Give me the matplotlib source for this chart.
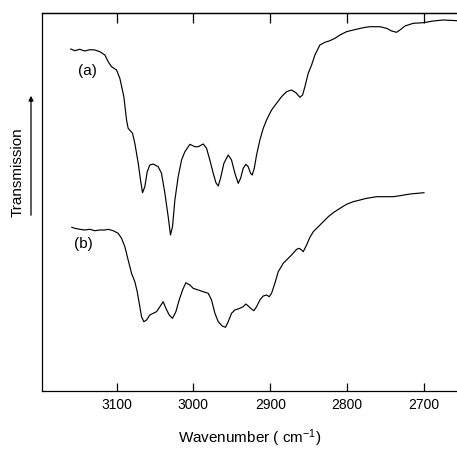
import matplotlib
matplotlib.use("Agg")
import matplotlib.pyplot as plt

# Curve (a): wavenumber (cm^-1) and transmission (arbitrary units)
wn_a = [3159.5, 3154.3, 3147.8, 3141.3, 3134.8, 3128.2, 3121.7, 3115.2, 3110.9, 3106.6,
        3100.0, 3095.7, 3090.5, 3087.0, 3084.9, 3079.2, 3076.2, 3071.8, 3068.8, 3066.2,
        3063.2, 3060.1, 3056.7, 3052.3, 3045.8, 3041.5, 3037.1, 3032.8, 3029.8, 3027.2,
        3024.1, 3019.8, 3015.4, 3011.1, 3004.6, 2998.1, 2993.7, 2987.2, 2982.9, 2978.6,
        2974.2, 2970.7, 2967.7, 2964.7, 2960.3, 2954.7, 2950.4, 2946.0, 2941.7, 2938.6,
        2935.2, 2931.7, 2928.7, 2925.6, 2923.5, 2920.8, 2917.8, 2913.5, 2909.1, 2904.8,
        2898.3, 2891.8, 2885.3, 2878.8, 2872.3, 2866.6, 2861.4, 2857.9, 2854.9, 2850.6,
        2846.2, 2841.9, 2835.4, 2828.9, 2822.4, 2815.8, 2809.3, 2800.7, 2792.0, 2779.0,
        2770.3, 2757.3, 2748.6, 2742.1, 2735.6, 2731.2, 2724.7, 2713.9, 2700.9, 2687.8,
        2674.8, 2657.0]
tr_a = [342.0, 340.3, 341.7, 340.0, 341.3, 341.0, 339.3, 336.0, 329.3, 324.3,
        321.0, 312.7, 294.3, 271.0, 262.7, 257.7, 247.7, 227.7, 211.0, 198.3,
        204.3, 219.3, 226.0, 227.0, 224.3, 217.7, 197.7, 174.3, 156.0, 164.3,
        191.0, 214.3, 231.0, 239.3, 246.7, 244.3, 244.3, 247.0, 242.7, 231.0,
        217.7, 208.3, 205.0, 212.7, 227.7, 236.0, 231.0, 217.7, 207.7, 212.7,
        222.7, 226.7, 224.3, 217.7, 216.0, 222.7, 236.0, 251.0, 262.7, 271.0,
        281.0, 287.7, 294.3, 299.3, 301.0, 298.3, 293.7, 296.0, 304.3, 317.7,
        326.0, 336.0, 346.0, 348.7, 350.3, 352.7, 356.0, 359.3, 361.0, 363.3,
        364.3, 364.3, 362.7, 360.0, 358.7, 361.0, 365.0, 367.7, 368.3, 370.0,
        371.0, 370.3]

# Curve (b)
wn_b = [3158.2, 3154.3, 3147.8, 3141.3, 3134.8, 3128.2, 3121.7, 3115.2, 3110.9, 3104.4,
        3097.9, 3093.5, 3089.2, 3084.9, 3080.5, 3076.2, 3073.1, 3069.7, 3067.5, 3064.5,
        3061.0, 3056.7, 3052.3, 3048.0, 3043.6, 3039.3, 3035.8, 3031.5, 3027.2, 3022.8,
        3018.5, 3014.1, 3009.8, 3004.6, 3000.3, 2993.7, 2987.2, 2980.7, 2976.4, 2972.0,
        2967.7, 2962.5, 2958.2, 2954.7, 2950.4, 2946.0, 2939.5, 2935.2, 2931.7, 2928.7,
        2925.6, 2921.3, 2917.8, 2913.5, 2909.1, 2904.8, 2901.3, 2898.3, 2894.0, 2889.6,
        2883.1, 2878.8, 2872.3, 2865.7, 2862.3, 2859.2, 2857.1, 2852.7, 2848.4, 2844.0,
        2837.5, 2831.0, 2824.5, 2818.0, 2809.3, 2800.7, 2792.0, 2783.3, 2774.6, 2761.6,
        2752.9, 2739.9, 2731.2, 2718.2, 2700.0]
tr_b = [163.7, 162.7, 161.7, 161.0, 161.7, 160.3, 161.0, 161.0, 161.7, 160.3,
        157.7, 152.7, 144.3, 131.0, 117.7, 109.3, 99.3, 84.3, 74.3, 69.3,
        71.0, 76.0, 77.7, 79.3, 84.3, 89.3, 82.7, 76.0, 72.7, 79.3,
        91.0, 101.0, 108.3, 106.0, 102.7, 101.0, 99.3, 97.7, 91.0, 77.7,
        69.3, 65.0, 63.7, 69.3, 77.7, 81.0, 82.7, 84.3, 87.0, 85.0,
        82.7, 80.3, 84.3, 91.0, 95.0, 96.0, 94.3, 97.7, 107.7, 119.3,
        127.7, 131.0, 136.0, 141.7, 142.7, 141.0, 139.3, 146.0, 153.7, 159.3,
        164.3, 169.3, 174.3, 178.3, 182.7, 186.7, 189.3, 191.0, 192.7, 194.3,
        194.3, 194.3, 195.3, 197.0, 198.3]

xticks = [3100, 3000, 2900, 2800, 2700]
xtick_labels = ["3100", "3000", "2900", "2800", "2700"]

plt.rcParams['font.family'] = ['Liberation Sans', 'DejaVu Sans']
plt.rcParams['mathtext.default'] = 'regular'

fig = plt.figure(figsize=(4.57, 4.49), dpi=100)
ax = fig.add_axes([42/457, 58/449, 1 - 42/457, 378/449])

ax.plot(wn_a, tr_a, color='black', lw=0.85)
ax.plot(wn_b, tr_b, color='black', lw=0.85)

ax.set_xlim(3197, 2657)
ax.set_ylim(0, 378)

ax.set_xticks(xticks)
ax.set_xticklabels(xtick_labels, fontsize=10)
ax.set_yticks([])
ax.tick_params(axis='x', direction='in', length=6, width=0.9, pad=5)
for s in ['left', 'bottom', 'top']:
    ax.spines[s].set_linewidth(0.9)
ax.spines['right'].set_visible(False)

sec = ax.secondary_xaxis('top')
sec.set_xticks(xticks)
sec.set_xticklabels([])
sec.tick_params(direction='in', length=7.5, width=0.9)
sec.spines['top'].set_linewidth(0.9)

ax.set_xlabel("Wavenumber ( cm$^{-1}$)", fontsize=11, labelpad=11)

ax.text(3137.4, 320, "(a)", fontsize=11, ha='center', va='center')
ax.text(3142.6, 147, "(b)", fontsize=11, ha='center', va='center')

fig.text(18/457, 1 - 172/449, "Transmission", rotation=90, fontsize=11,
         ha='center', va='center')
fig.patches.append(matplotlib.patches.FancyArrowPatch(
    (31/457, 1 - 218/449), (31/457, 1 - 93/449), transform=fig.transFigure,
    arrowstyle='-|>', mutation_scale=7, color='black', lw=0.9))

fig.savefig("out.png", dpi=100)
